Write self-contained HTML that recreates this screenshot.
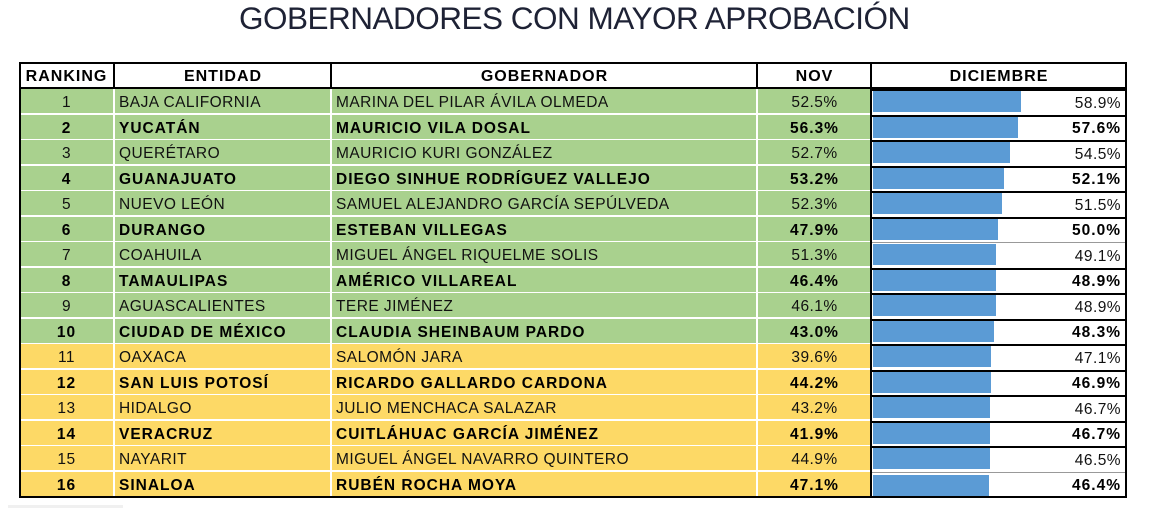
<!DOCTYPE html>
<html><head><meta charset="utf-8">
<style>
html,body{margin:0;padding:0;background:#fff;}
body{width:1151px;height:509px;position:relative;overflow:hidden;font-family:"Liberation Sans",Arial,sans-serif;color:#111;}
.title{position:absolute;left:0;width:1151px;top:3px;font-size:31.5px;line-height:31px;letter-spacing:-0.5px;color:#1e2235;}
.title span{position:absolute;left:239px;}
.hdr{position:absolute;left:20px;top:63px;width:1106px;height:26px;background:#fff;}
.h{position:absolute;top:0;height:26px;line-height:28px;text-align:center;font-weight:700;font-size:16px;letter-spacing:1px;color:#000;}
.r{position:absolute;left:20px;width:1106px;height:25.5px;background:#fff;}
.c{position:absolute;top:0;height:24px;line-height:27.5px;white-space:nowrap;font-size:15.5px;letter-spacing:0.45px;box-sizing:border-box;}
.b .c{font-weight:700;letter-spacing:1px;color:#000;}
.k{left:0;width:93px;text-align:center;}
.e{left:95px;width:215px;padding-left:4px;}
.g{left:312px;width:424px;padding-left:4px;}
.n{left:738px;width:113px;text-align:center;}
.gr .k,.gr .e,.gr .g,.gr .n{background:#a9d18e;}
.ye .k,.ye .e,.ye .g,.ye .n{background:#fdd966;}
.d{position:absolute;left:851px;top:0;width:255px;height:25.5px;background:#fff;border-top:2px solid #000;box-sizing:border-box;}
.bar{position:absolute;left:2px;top:0;height:21px;background:#5b9bd5;}
.v{position:absolute;right:5px;top:-0.5px;line-height:25.5px;font-size:15.5px;letter-spacing:0.45px;white-space:nowrap;}
.b .v{font-weight:700;letter-spacing:1px;color:#000;}
.vl{position:absolute;background:#000;width:2px;}
.outer{position:absolute;left:19px;top:62px;width:1108px;height:436px;border:2px solid #000;box-sizing:border-box;}
</style></head><body>
<div class="title"><span>GOBERNADORES CON MAYOR APROBACIÓN</span></div>

<div class="hdr">
  <div class="h" style="left:0;width:93px;">RANKING</div>
  <div class="h" style="left:95px;width:216px;">ENTIDAD</div>
  <div class="h" style="left:312px;width:425px;">GOBERNADOR</div>
  <div class="h" style="left:738px;width:113px;">NOV</div>
  <div class="h" style="left:852px;width:254px;">DICIEMBRE</div>
</div>
<div style="position:absolute;left:20px;top:87px;width:1106px;height:2px;background:#000;"></div>
<div class="vl" style="left:113px;top:63px;height:26px;"></div>
<div class="vl" style="left:330px;top:63px;height:26px;"></div>
<div class="vl" style="left:756px;top:63px;height:26px;"></div>

<div class="r gr" style="top:89px"><div class="c k">1</div><div class="c e">BAJA CALIFORNIA</div><div class="c g">MARINA DEL PILAR ÁVILA OLMEDA</div><div class="c n">52.5%</div><div class="d"><div class="bar" style="width:148px"></div><div class="v">58.9%</div></div></div>
<div class="r gr b" style="top:114.5px"><div class="c k">2</div><div class="c e">YUCATÁN</div><div class="c g">MAURICIO VILA DOSAL</div><div class="c n">56.3%</div><div class="d"><div class="bar" style="width:145px"></div><div class="v">57.6%</div></div></div>
<div class="r gr" style="top:140px"><div class="c k">3</div><div class="c e">QUERÉTARO</div><div class="c g">MAURICIO KURI GONZÁLEZ</div><div class="c n">52.7%</div><div class="d"><div class="bar" style="width:137px"></div><div class="v">54.5%</div></div></div>
<div class="r gr b" style="top:165.5px"><div class="c k">4</div><div class="c e">GUANAJUATO</div><div class="c g">DIEGO SINHUE RODRÍGUEZ VALLEJO</div><div class="c n">53.2%</div><div class="d"><div class="bar" style="width:131px"></div><div class="v">52.1%</div></div></div>
<div class="r gr" style="top:191px"><div class="c k">5</div><div class="c e">NUEVO LEÓN</div><div class="c g">SAMUEL ALEJANDRO GARCÍA SEPÚLVEDA</div><div class="c n">52.3%</div><div class="d"><div class="bar" style="width:129px"></div><div class="v">51.5%</div></div></div>
<div class="r gr b" style="top:216.5px"><div class="c k">6</div><div class="c e">DURANGO</div><div class="c g">ESTEBAN VILLEGAS</div><div class="c n">47.9%</div><div class="d"><div class="bar" style="width:125px"></div><div class="v">50.0%</div></div></div>
<div class="r gr" style="top:242px"><div class="c k">7</div><div class="c e">COAHUILA</div><div class="c g">MIGUEL ÁNGEL RIQUELME SOLIS</div><div class="c n">51.3%</div><div class="d" style="border-top-color:#999;border-top-width:1px"><div class="bar" style="width:123px;top:1px"></div><div class="v" style="top:0.5px">49.1%</div></div></div>
<div class="r gr b" style="top:267.5px"><div class="c k">8</div><div class="c e">TAMAULIPAS</div><div class="c g">AMÉRICO VILLAREAL</div><div class="c n">46.4%</div><div class="d"><div class="bar" style="width:123px"></div><div class="v">48.9%</div></div></div>
<div class="r gr" style="top:293px"><div class="c k">9</div><div class="c e">AGUASCALIENTES</div><div class="c g">TERE JIMÉNEZ</div><div class="c n">46.1%</div><div class="d"><div class="bar" style="width:123px"></div><div class="v">48.9%</div></div></div>
<div class="r gr b" style="top:318.5px"><div class="c k">10</div><div class="c e">CIUDAD DE MÉXICO</div><div class="c g">CLAUDIA SHEINBAUM PARDO</div><div class="c n">43.0%</div><div class="d"><div class="bar" style="width:121px"></div><div class="v">48.3%</div></div></div>
<div class="r ye" style="top:344px"><div class="c k">11</div><div class="c e">OAXACA</div><div class="c g">SALOMÓN JARA</div><div class="c n">39.6%</div><div class="d"><div class="bar" style="width:118px"></div><div class="v">47.1%</div></div></div>
<div class="r ye b" style="top:369.5px"><div class="c k">12</div><div class="c e">SAN LUIS POTOSÍ</div><div class="c g">RICARDO GALLARDO CARDONA</div><div class="c n">44.2%</div><div class="d"><div class="bar" style="width:118px"></div><div class="v">46.9%</div></div></div>
<div class="r ye" style="top:395px"><div class="c k">13</div><div class="c e">HIDALGO</div><div class="c g">JULIO MENCHACA SALAZAR</div><div class="c n">43.2%</div><div class="d"><div class="bar" style="width:117px"></div><div class="v">46.7%</div></div></div>
<div class="r ye b" style="top:420.5px"><div class="c k">14</div><div class="c e">VERACRUZ</div><div class="c g">CUITLÁHUAC GARCÍA JIMÉNEZ</div><div class="c n">41.9%</div><div class="d"><div class="bar" style="width:117px"></div><div class="v">46.7%</div></div></div>
<div class="r ye" style="top:446px"><div class="c k">15</div><div class="c e">NAYARIT</div><div class="c g">MIGUEL ÁNGEL NAVARRO QUINTERO</div><div class="c n">44.9%</div><div class="d"><div class="bar" style="width:117px"></div><div class="v">46.5%</div></div></div>
<div class="r ye b" style="top:471.5px"><div class="c k">16</div><div class="c e">SINALOA</div><div class="c g">RUBÉN ROCHA MOYA</div><div class="c n">47.1%</div><div class="d" style="border-top-color:#999;border-top-width:1px"><div class="bar" style="width:116px;top:2px"></div><div class="v" style="top:0.5px">46.4%</div></div></div>

<div class="vl" style="left:870px;top:63px;height:434px;"></div>
<div class="outer"></div>
<div style="position:absolute;left:8px;top:505px;width:115px;height:3px;background:#f0f0f0;"></div>
</body></html>
